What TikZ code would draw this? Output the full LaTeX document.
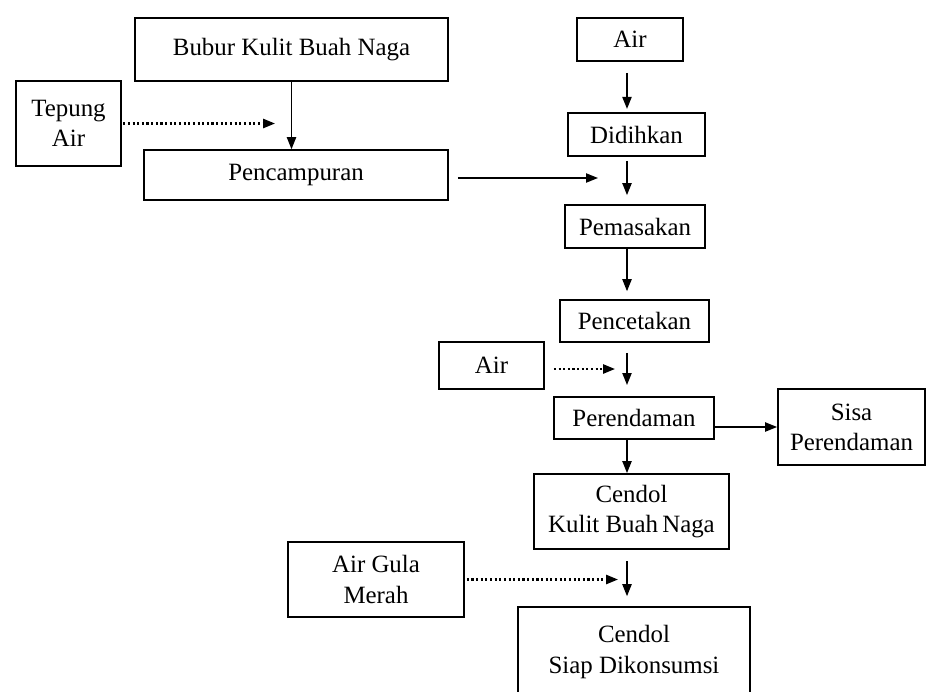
\documentclass[tikz,border=0pt]{standalone}
\usepackage{fontspec}
\setmainfont{Liberation Serif}
\usepackage{tikz}
\usetikzlibrary{arrows.meta, positioning}

\tikzset{
  box/.style={draw, line width=1.1pt, align=center, inner sep=0pt,
    font=\fontsize{17.7}{21.5}\selectfont},
  arr/.style={-{Triangle[length=0.3cm, width=0.23cm]}, line width=1.1pt},
  dotarr/.style={arr, line width=1.5pt, dash pattern=on 1.5pt off 1.8pt}
}

\begin{document}
\begin{tikzpicture}[x=0.025cm, y=-0.025cm]
    \fill[white] (0,0) rectangle (927,691);
    \useasboundingbox (0,0) rectangle (927,691);

    % left branch
    \node[box, minimum width=7.83cm, minimum height=1.58cm] (bubur) at (291.5,49.5) {Bubur Kulit Buah Naga};
    \node[box, minimum width=2.63cm, minimum height=2.13cm] (tepung) at (68.5,123.5) {Tepung\\Air};
    \node[box, minimum width=7.6cm, minimum height=1.25cm] (pencampuran) at (296,175) {Pencampuran};

    % main column
    \node[box, minimum width=2.65cm, minimum height=1.08cm] (air) at (630,39.5) {Air};
    \node[box, minimum width=3.43cm, minimum height=1.08cm] (didihkan) at (636.5,134.5) {Didihkan};
    \node[box, minimum width=3.5cm, minimum height=1.08cm] (pemasakan) at (635,226.5) {Pemasakan};
    \node[box, minimum width=3.73cm, minimum height=1.05cm] (pencetakan) at (634.5,321) {Pencetakan};
    \node[box, minimum width=2.63cm, minimum height=1.18cm] (airrendam) at (491.5,365.5) {Air};
    \node[box, minimum width=4.0cm, minimum height=1.05cm] (perendaman) at (634,418) {Perendaman};
    \node[box, minimum width=3.68cm, minimum height=1.9cm] (sisa) at (851.5,427) {Sisa\\Perendaman};
    \node[box, minimum width=4.88cm, minimum height=1.88cm] (cendol) at (631.5,511.5) {Cendol\\Kulit Buah\,Naga};
    \node[box, minimum width=4.4cm, minimum height=1.88cm] (gula) at (376,579.5) {Air Gula\\Merah};
    \node[box, minimum width=5.8cm, minimum height=2.25cm] (siap) at (634,652) {Cendol\\Siap Dikonsumsi};

    % free ends
    \coordinate (col) at (627,0);
    \coordinate (tepungin) at (275,123.5);
    \coordinate (mix) at (598,178);
    \coordinate (airin) at (615,369);
    \coordinate (gulain) at (618,579.5);

    \draw[arr] (bubur.south) -- (bubur.south |- pencampuran.north);
    \draw[dotarr, shorten <=1pt] (tepung.east) -- (tepungin);
    \draw[arr, shorten <=0.225cm] (pencampuran.east |- mix) -- (mix);

    \draw[arr, shorten <=0.275cm, shorten >=0.08cm] (air.south -| col) -- (didihkan.north -| col);
    \draw[arr, shorten <=0.1cm, shorten >=0.225cm] (didihkan.south -| col) -- (pemasakan.north -| col);
    \draw[arr, shorten >=0.2cm] (pemasakan.south -| col) -- (pencetakan.north -| col);
    \draw[arr, shorten <=0.25cm, shorten >=0.28cm] (pencetakan.south -| col) -- (perendaman.north -| col);
    \draw[dotarr, shorten <=0.225cm] (airrendam.east |- airin) -- (airin);
    \draw[arr] (perendaman.east |- sisa.west) -- (sisa.west);
    \draw[arr] (perendaman.south -| col) -- (cendol.north -| col);
    \draw[arr, shorten <=0.28cm, shorten >=0.25cm] (cendol.south -| col) -- (siap.north -| col);
    \draw[dotarr, shorten <=0.05cm] (gula.east) -- (gulain);
\end{tikzpicture}
\end{document}
